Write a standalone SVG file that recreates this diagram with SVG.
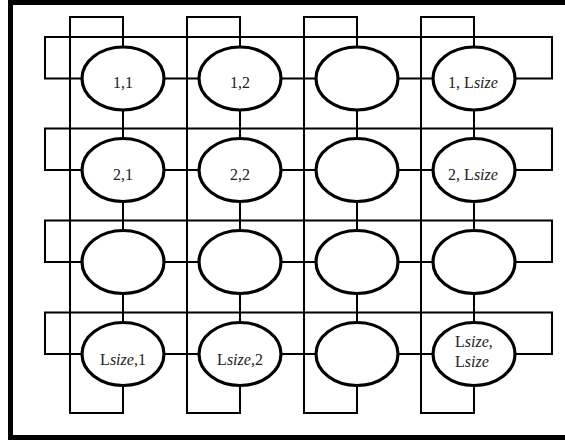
<svg xmlns="http://www.w3.org/2000/svg" width="565" height="441" viewBox="0 0 565 441">
<style>
.ln{fill:none;stroke:#000;stroke-width:2}
.nd{fill:#fff;stroke:#000;stroke-width:3.2}
.lb{font-family:"Liberation Serif","Times New Roman",serif;font-size:16px;fill:#222;text-anchor:middle}
.it{font-style:italic}
</style>
<rect x="0" y="0" width="565" height="441" fill="#fff"/>
<rect x="10.5" y="2.5" width="560" height="435" fill="none" stroke="#000" stroke-width="5"/>
<g id="connectors" class="ln">
<!-- column wrap lines -->
<path d="M123 47 V17 H70 V413 H123 V386"/>
<path d="M240 47 V17 H187 V413 H240 V386"/>
<path d="M357 47 V17 H304 V413 H357 V386"/>
<path d="M474 47 V17 H421 V413 H474 V386"/>
<!-- row wrap lines -->
<path d="M83 78.5 H45 V37 H552 V78.5 H515"/>
<path d="M83 170 H45 V128.5 H552 V170 H515"/>
<path d="M83 262 H45 V220.5 H552 V262 H515"/>
<path d="M83 354 H45 V312.5 H552 V354 H515"/>
<!-- horizontal neighbours -->
<path d="M164 78.5 H199 M281 78.5 H316 M398 78.5 H433"/>
<path d="M164 170 H199 M281 170 H316 M398 170 H433"/>
<path d="M164 262 H199 M281 262 H316 M398 262 H433"/>
<path d="M164 354 H199 M281 354 H316 M398 354 H433"/>
<!-- vertical neighbours -->
<path d="M123 110 V139 M123 201 V231 M123 293 V323"/>
<path d="M240 110 V139 M240 201 V231 M240 293 V323"/>
<path d="M357 110 V139 M357 201 V231 M357 293 V323"/>
<path d="M474 110 V139 M474 201 V231 M474 293 V323"/>
</g>
<g id="n11"><ellipse class="nd" cx="123" cy="78.5" rx="41" ry="31.5"/><text class="lb" x="123" y="88">1,1</text></g>
<g id="n12"><ellipse class="nd" cx="240" cy="78.5" rx="41" ry="31.5"/><text class="lb" x="240" y="88">1,2</text></g>
<g id="n13"><ellipse class="nd" cx="357" cy="78.5" rx="41" ry="31.5"/></g>
<g id="n14"><ellipse class="nd" cx="474" cy="78.5" rx="41" ry="31.5"/><text class="lb" x="473" y="88">1, L<tspan class="it">size</tspan></text></g>
<g id="n21"><ellipse class="nd" cx="123" cy="170" rx="41" ry="31.5"/><text class="lb" x="123" y="180">2,1</text></g>
<g id="n22"><ellipse class="nd" cx="240" cy="170" rx="41" ry="31.5"/><text class="lb" x="240" y="180">2,2</text></g>
<g id="n23"><ellipse class="nd" cx="357" cy="170" rx="41" ry="31.5"/></g>
<g id="n24"><ellipse class="nd" cx="474" cy="170" rx="41" ry="31.5"/><text class="lb" x="473" y="180">2, L<tspan class="it">size</tspan></text></g>
<g id="n31"><ellipse class="nd" cx="123" cy="262" rx="41" ry="31.5"/></g>
<g id="n32"><ellipse class="nd" cx="240" cy="262" rx="41" ry="31.5"/></g>
<g id="n33"><ellipse class="nd" cx="357" cy="262" rx="41" ry="31.5"/></g>
<g id="n34"><ellipse class="nd" cx="474" cy="262" rx="41" ry="31.5"/></g>
<g id="n41"><ellipse class="nd" cx="123" cy="354" rx="41" ry="31.5"/><text class="lb" x="123" y="365">L<tspan class="it">size</tspan>,1</text></g>
<g id="n42"><ellipse class="nd" cx="240" cy="354" rx="41" ry="31.5"/><text class="lb" x="240" y="365">L<tspan class="it">size</tspan>,2</text></g>
<g id="n43"><ellipse class="nd" cx="357" cy="354" rx="41" ry="31.5"/></g>
<g id="n44"><ellipse class="nd" cx="474" cy="354" rx="41" ry="31.5"/><text class="lb" style="text-anchor:start"><tspan x="455" y="347">L<tspan class="it">size</tspan>,</tspan><tspan x="455" y="367">L<tspan class="it">size</tspan></tspan></text></g>
</svg>
